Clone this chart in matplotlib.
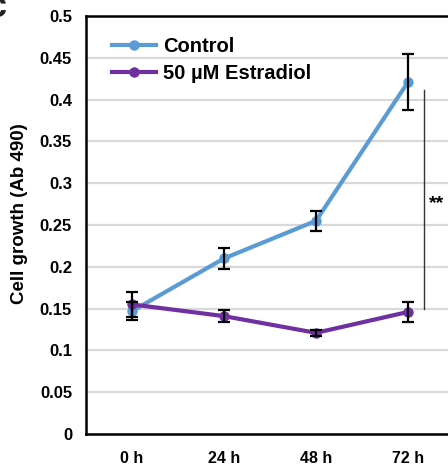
import matplotlib
matplotlib.use("Agg")
import matplotlib.pyplot as plt

categories = ["0 h", "24 h", "48 h", "72 h"]
control = [0.147, 0.210, 0.255, 0.421]
control_err = [0.011, 0.013, 0.012, 0.033]
estradiol = [0.155, 0.141, 0.121, 0.146]
estradiol_err = [0.015, 0.007, 0.004, 0.012]
yticks = [0, 0.05, 0.1, 0.15, 0.2, 0.25, 0.3, 0.35, 0.4, 0.45, 0.5]
ytick_labels = ["0", "0.05", "0.1", "0.15", "0.2", "0.25", "0.3", "0.35", "0.4", "0.45", "0.5"]

plt.rcParams['font.family'] = ['Liberation Sans', 'DejaVu Sans']

W, H = 448, 467
fig = plt.figure(figsize=(W/100, H/100), dpi=100)
ax = fig.add_axes([86/W, 1 - 434/H, (454-86)/W, (434-16)/H])

x = list(range(len(categories)))
blue = "#5b9bd5"
purple = "#7030a0"

for v in yticks[1:]:
    ax.axhline(v, color="#d9d9d9", lw=1.6, zorder=0)

ax.plot(x, control, color=blue, lw=3, marker="o", ms=6.5, label="Control", zorder=3)
ax.errorbar(x, control, yerr=control_err, fmt="none", ecolor="black", elinewidth=1.6, capsize=4, capthick=1.6, zorder=4)
ax.plot(x, estradiol, color=purple, lw=3, marker="o", ms=6.5, label="50 \u00b5M Estradiol", zorder=3)
ax.errorbar(x, estradiol, yerr=estradiol_err, fmt="none", ecolor="black", elinewidth=1.6, capsize=4, capthick=1.6, zorder=4)

ax.set_xlim(-0.5, 3.5)
ax.set_ylim(0, 0.5)
ax.set_yticks(yticks)
ax.set_yticklabels(ytick_labels, fontsize=12, fontweight="bold")
ax.set_xticks(x)
ax.set_xticklabels(categories, fontsize=11.5, fontweight="bold")
ax.tick_params(axis="x", length=0, pad=12)
ax.tick_params(axis="y", length=0, pad=10)
for s in ["left", "bottom", "top"]:
    ax.spines[s].set_linewidth(1.8)
    ax.spines[s].set_color("black")
ax.spines["right"].set_visible(False)

# significance bracket
ax.plot([3.17, 3.17], [0.150, 0.4115], color="#333333", lw=1.0, clip_on=False)
ax.text(3.23, 0.276, "**", fontsize=14, fontweight="bold", va="center", ha="left", clip_on=False)

fig.text(19/W, 1 - 214/H, "Cell growth (Ab 490)", rotation=90, fontsize=13.5, fontweight="bold",
         ha="center", va="center")

leg = ax.legend(loc="upper left", bbox_to_anchor=(0.07, 0.949), frameon=False,
                prop={"weight": "bold", "size": 14.5}, handlelength=2.2, handletextpad=0.35,
                labelspacing=0.4, borderaxespad=0, borderpad=0)

fig.text(-0.03, 1.022, "c", fontsize=26, fontweight="bold", color="#222222", ha="left", va="top")

fig.savefig("out.png", dpi=100)
